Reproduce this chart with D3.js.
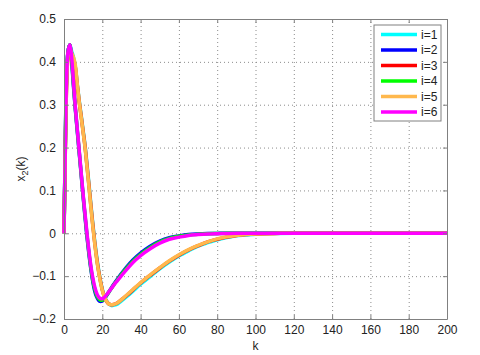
<!DOCTYPE html>
<html>
<head>
<meta charset="utf-8">
<script src="https://cdn.jsdelivr.net/npm/d3@7"></script>
<style>
  body { margin: 0; background: #fff; }
  text { font-family: "Liberation Sans", Arial, sans-serif; }
  .grid line { stroke: #8c8c8c; stroke-dasharray: 1,3; }
  .grid path { display: none; }
  .axis path, .axis line { stroke: #808080; }
  .axis text { fill: #222; font-size: 12px; }
</style>
</head>
<body>
<div id="plot"></div>
<script>
// x2(k) response, six agents

var kValues = [0, 1, 2, 3, 4, 5, 6, 7, 8, 9, 10, 11, 12, 13, 14, 15, 16, 17, 18, 19, 20,
  21, 22, 23, 24, 25, 26, 28, 30, 33, 36, 40, 45, 50, 55, 60, 65, 70, 75, 80, 85, 90,
  95, 100, 110, 120, 140, 160, 180, 200];

var seriesNames = ["i=1", "i=2", "i=3", "i=4", "i=5", "i=6"];
var seriesColors = ["#00ffff", "#0000ff", "#ff0000", "#00ff00", "#ffb84d", "#ff00ff"];

var x2_i1 = [0, 0.29, 0.42, 0.44, 0.425, 0.41, 0.385, 0.345, 0.308, 0.275, 0.24, 0.205, 0.162, 0.117, 0.07,
  0.025, -0.016, -0.052, -0.083, -0.109, -0.13, -0.146, -0.156, -0.163, -0.167, -0.169, -0.168,
  -0.165, -0.158, -0.147, -0.135, -0.119, -0.101, -0.083, -0.067, -0.053, -0.041, -0.03, -0.022,
  -0.015, -0.01, -0.006, -0.004, -0.002, -0.0005, 0, 0, 0, 0, 0];
var x2_i2 = [0, 0.31, 0.42, 0.44, 0.4, 0.34, 0.285, 0.235, 0.185, 0.135, 0.085, 0.037, -0.008, -0.048, -0.083,
  -0.112, -0.134, -0.148, -0.156, -0.159, -0.158, -0.153, -0.147, -0.14, -0.133, -0.126, -0.119,
  -0.106, -0.094, -0.077, -0.062, -0.046, -0.03, -0.018, -0.01, -0.006, -0.003, -0.0015, -0.0007,
  -0.0003, 0, 0, 0, 0, 0, 0, 0, 0, 0, 0];
var x2_i3 = [0, 0.28, 0.41, 0.43, 0.42, 0.405, 0.385, 0.343, 0.305, 0.272, 0.237, 0.202, 0.158, 0.113, 0.066,
  0.021, -0.02, -0.056, -0.086, -0.111, -0.132, -0.147, -0.157, -0.163, -0.166, -0.167, -0.166,
  -0.162, -0.155, -0.144, -0.132, -0.116, -0.098, -0.081, -0.065, -0.051, -0.039, -0.029, -0.02,
  -0.014, -0.009, -0.005, -0.003, -0.0015, -0.0003, 0, 0, 0, 0, 0];
var x2_i4 = [0, 0.305, 0.42, 0.44, 0.405, 0.345, 0.288, 0.238, 0.188, 0.138, 0.088, 0.041, -0.004, -0.044, -0.079,
  -0.108, -0.129, -0.144, -0.152, -0.156, -0.156, -0.152, -0.146, -0.14, -0.133, -0.127, -0.12,
  -0.108, -0.096, -0.08, -0.065, -0.049, -0.033, -0.02, -0.012, -0.007, -0.004, -0.002, -0.001,
  -0.0004, 0, 0, 0, 0, 0, 0, 0, 0, 0, 0];
var x2_i5 = [0, 0.28, 0.41, 0.43, 0.42, 0.41, 0.39, 0.345, 0.305, 0.27, 0.235, 0.2, 0.155, 0.11, 0.063,
  0.018, -0.022, -0.058, -0.088, -0.113, -0.133, -0.148, -0.157, -0.163, -0.166, -0.167, -0.166,
  -0.162, -0.155, -0.143, -0.131, -0.115, -0.097, -0.08, -0.064, -0.05, -0.038, -0.028, -0.02,
  -0.013, -0.008, -0.005, -0.003, -0.0015, -0.0003, 0, 0, 0, 0, 0];
var x2_i6 = [0, 0.3, 0.42, 0.44, 0.41, 0.35, 0.29, 0.24, 0.19, 0.14, 0.09, 0.045, 0.0, -0.04, -0.075,
  -0.103, -0.124, -0.139, -0.148, -0.152, -0.153, -0.15, -0.145, -0.139, -0.133, -0.127, -0.121,
  -0.11, -0.099, -0.083, -0.068, -0.052, -0.036, -0.023, -0.014, -0.009, -0.005, -0.003, -0.0015,
  -0.0008, -0.0003, 0, 0, 0, 0, 0, 0, 0, 0, 0];

var allSeries = [x2_i1, x2_i2, x2_i3, x2_i4, x2_i5, x2_i6];

var xTicks = [0, 20, 40, 60, 80, 100, 120, 140, 160, 180, 200];
var yTicks = [-0.2, -0.1, 0, 0.1, 0.2, 0.3, 0.4, 0.5];

var svgWidth = 480;
var svgHeight = 355;

var margin = {
  top: 19,
  right: 33,
  bottom: 36,
  left: 64
};

var width = svgWidth - margin.left - margin.right;
var height = svgHeight - margin.top - margin.bottom;

var svg = d3.select("#plot")
  .append("svg")
  .attr("width", svgWidth)
  .attr("height", svgHeight);

var chartGroup = svg.append("g")
  .attr("transform", `translate(${margin.left}, ${margin.top})`);

var xLinearScale = d3.scaleLinear()
  .domain([0, 200])
  .range([0, width]);

var yLinearScale = d3.scaleLinear()
  .domain([-0.2, 0.5])
  .range([height, 0]);

// dotted grid
chartGroup.append("g")
  .attr("class", "grid")
  .attr("transform", `translate(0, ${height})`)
  .call(d3.axisBottom(xLinearScale).tickValues(xTicks).tickSize(-height).tickFormat(""));

chartGroup.append("g")
  .attr("class", "grid")
  .call(d3.axisLeft(yLinearScale).tickValues(yTicks).tickSize(-width).tickFormat(""));

// lines
var line = d3.line()
  .x((d, j) => xLinearScale(kValues[j]))
  .y(d => yLinearScale(d))
  .curve(d3.curveMonotoneX);

chartGroup.selectAll(".series")
  .data(allSeries)
  .enter()
  .append("path")
  .attr("class", "series")
  .attr("d", d => line(d))
  .attr("fill", "none")
  .attr("stroke", (d, i) => seriesColors[i])
  .attr("stroke-width", 3.5)
  .attr("stroke-linejoin", "round");

// axes with inward ticks on all sides
var fmt = d => d3.format("")(Math.round(d * 10) / 10);

chartGroup.append("g")
  .attr("class", "axis")
  .attr("transform", `translate(0, ${height})`)
  .call(d3.axisBottom(xLinearScale).tickValues(xTicks).tickSizeInner(-4).tickSizeOuter(0).tickPadding(6));

chartGroup.append("g")
  .attr("class", "axis")
  .call(d3.axisLeft(yLinearScale).tickValues(yTicks).tickSizeInner(-4).tickSizeOuter(0).tickPadding(8).tickFormat(fmt))
  .call(g => g.selectAll("text").text(d => fmt(d).replace("-", "\u2212")));

chartGroup.append("g")
  .attr("class", "axis")
  .call(d3.axisTop(xLinearScale).tickValues(xTicks).tickSizeInner(-4).tickSizeOuter(0).tickFormat(""));

chartGroup.append("g")
  .attr("class", "axis")
  .attr("transform", `translate(${width}, 0)`)
  .call(d3.axisRight(yLinearScale).tickValues(yTicks).tickSizeInner(-4).tickSizeOuter(0).tickFormat(""));

// axis labels
chartGroup.append("text")
  .attr("x", width / 2)
  .attr("y", height + 31)
  .attr("text-anchor", "middle")
  .attr("font-size", 12)
  .attr("fill", "#222")
  .text("k");

var yLabel = chartGroup.append("text")
  .attr("transform", `translate(${-margin.left + 25}, ${height / 2}) rotate(-90)`)
  .attr("text-anchor", "middle")
  .attr("font-size", 12)
  .attr("fill", "#222");
yLabel.append("tspan").text("x");
yLabel.append("tspan").attr("font-size", 9).attr("dy", 3).text("2");
yLabel.append("tspan").attr("dy", -3).text("(k)");

// legend
var legend = chartGroup.append("g")
  .attr("transform", `translate(${374 - margin.left}, ${25 - margin.top})`);

legend.append("rect")
  .attr("width", 67)
  .attr("height", 96)
  .attr("fill", "#fff")
  .attr("stroke", "#808080");

var rows = legend.selectAll(".row")
  .data(seriesNames)
  .enter()
  .append("g")
  .attr("class", "row")
  .attr("transform", (d, i) => `translate(0, ${9.5 + i * 15.5})`);

rows.append("line")
  .attr("x1", 7)
  .attr("x2", 43)
  .attr("stroke", (d, i) => seriesColors[i])
  .attr("stroke-width", 3.5);

rows.append("text")
  .attr("x", 47)
  .attr("dy", "0.35em")
  .attr("font-size", 12)
  .attr("fill", "#222")
  .text(d => d);
</script>
</body>
</html>
